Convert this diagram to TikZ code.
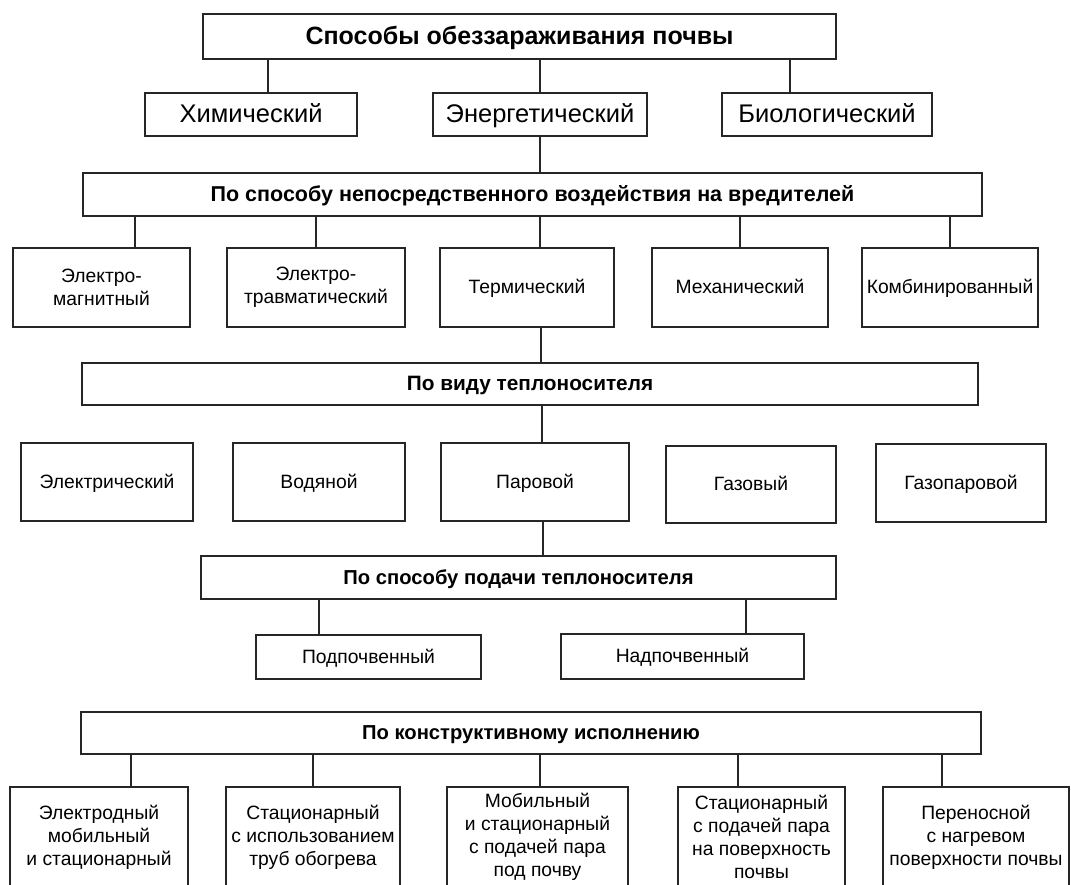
\documentclass[tikz,border=0pt]{standalone}
\usepackage{fontspec}
\setmainfont{Liberation Sans}

\tikzset{
  box/.style={draw=black!85, line width=1.5pt, inner sep=0pt, align=center, font=\fontsize{19.3}{23}\selectfont},
  one/.style={box, text height=13.5pt, text depth=1pt},
  head/.style={box, text height=14pt, text depth=1pt, font=\fontsize{20.2}{24}\selectfont\bfseries},
  size/.style 2 args={minimum width=#1, minimum height=#2},
  link/.style={draw=black!85, line width=1.5pt},
}

\begin{document}
\begin{tikzpicture}[x=1pt,y=-1pt]
	\useasboundingbox (0,0) rectangle (1071,884);
	% top level
	\node[head, size={633pt}{45pt}, text height=17.5pt, text depth=1.5pt, font=\fontsize{25}{30}\selectfont\bfseries] (title) at (519.5,36.5) {Способы обеззараживания почвы};
	\node[one, size={212pt}{43pt}, text height=17.5pt, text depth=1.2pt, font=\fontsize{25.5}{29}\selectfont] (chem) at (251,114.5) {Химический};
	\node[one, size={214pt}{43pt}, text height=17.5pt, text depth=1.2pt, font=\fontsize{25.5}{29}\selectfont] (energ) at (540,114.5) {Энергетический};
	\node[one, size={210pt}{43pt}, text height=17.5pt, text depth=1.2pt, font=\fontsize{25.5}{29}\selectfont] (bio) at (827,114.5) {Биологический};
	% action on pests
	\node[head, size={899pt}{43pt}, text height=15pt, text depth=1.2pt, font=\fontsize{21.5}{25}\selectfont\bfseries] (contact) at (532.5,194.5) {По способу непосредственного воздействия на вредителей};
	\node[box, size={177pt}{79pt}] (emag) at (101.5,287.5) {Электро-\\магнитный};
	\node[box, size={178pt}{79pt}] (etrav) at (316,287.5) {Электро-\\травматический};
	\node[one, size={174pt}{79pt}] (therm) at (527,287.5) {Термический};
	\node[one, size={176pt}{79pt}] (mech) at (740,287.5) {Механический};
	\node[one, size={176pt}{79pt}] (comb) at (950,287.5) {Комбинированный};
	% heat carrier
	\node[head, size={896pt}{42pt}, text height=14.5pt, font=\fontsize{20.8}{24}\selectfont\bfseries] (carrier) at (530,384) {По виду теплоносителя};
	\node[one, size={172pt}{78pt}] (elec) at (107,482) {Электрический};
	\node[one, size={172pt}{78pt}] (water) at (319,482) {Водяной};
	\node[one, size={188pt}{78pt}] (steam) at (535,482) {Паровой};
	\node[one, size={170pt}{77pt}] (gas) at (751,484.5) {Газовый};
	\node[one, size={170pt}{78pt}] (gassteam) at (961,483) {Газопаровой};
	% supply
	\node[head, size={635pt}{43pt}] (supply) at (518.5,577.5) {По способу подачи теплоносителя};
	\node[one, size={225pt}{44pt}] (under) at (368.5,657) {Подпочвенный};
	\node[one, size={243pt}{45pt}] (over) at (682.5,656.5) {Надпочвенный};
	% design
	\node[head, size={900pt}{42pt}] (design) at (531,733) {По конструктивному исполнению};
	\node[box, size={178pt}{100pt}] (electrode) at (99,837) {Электродный\\мобильный\\и стационарный};
	\node[box, size={174pt}{100pt}] (pipes) at (313,837) {Стационарный\\с использованием\\труб обогрева};
	\node[box, size={181pt}{100pt}] (mobile) at (537.5,837) {Мобильный\\и стационарный\\с подачей пара\\под почву};
	\node[box, size={167pt}{100pt}] (surface) at (761.5,837) {Стационарный\\с подачей пара\\на поверхность\\почвы};
	\node[box, size={186pt}{100pt}] (portable) at (976,837) {Переносной\\с нагревом\\поверхности почвы};
	% connectors
	\draw[link] ([xshift=17pt]chem.north) -- ([xshift=17pt]chem.north |- title.south);
	\draw[link] (energ.north) -- (energ.north |- title.south);
	\draw[link] ([xshift=-37pt]bio.north) -- ([xshift=-37pt]bio.north |- title.south);
	\draw[link] (energ.south) -- (energ.south |- contact.north);
	\foreach \n/\dx in {emag/33.5, etrav/0, therm/13, mech/0, comb/0}
		\draw[link] ([xshift=\dx pt]\n.north) -- ([xshift=\dx pt]\n.north |- contact.south);
	\draw[link] ([xshift=14pt]therm.south) -- ([xshift=14pt]therm.south |- carrier.north);
	\draw[link] ([xshift=7pt]steam.north) -- ([xshift=7pt]steam.north |- carrier.south);
	\draw[link] ([xshift=8pt]steam.south) -- ([xshift=8pt]steam.south |- supply.north);
	\foreach \n/\dx in {under/-49.5, over/63.5}
		\draw[link] ([xshift=\dx pt]\n.north) -- ([xshift=\dx pt]\n.north |- supply.south);
	\foreach \n/\dx in {electrode/32, pipes/0, mobile/2.5, surface/-23.5, portable/-34}
		\draw[link] ([xshift=\dx pt]\n.north) -- ([xshift=\dx pt]\n.north |- design.south);
\end{tikzpicture}
\end{document}
